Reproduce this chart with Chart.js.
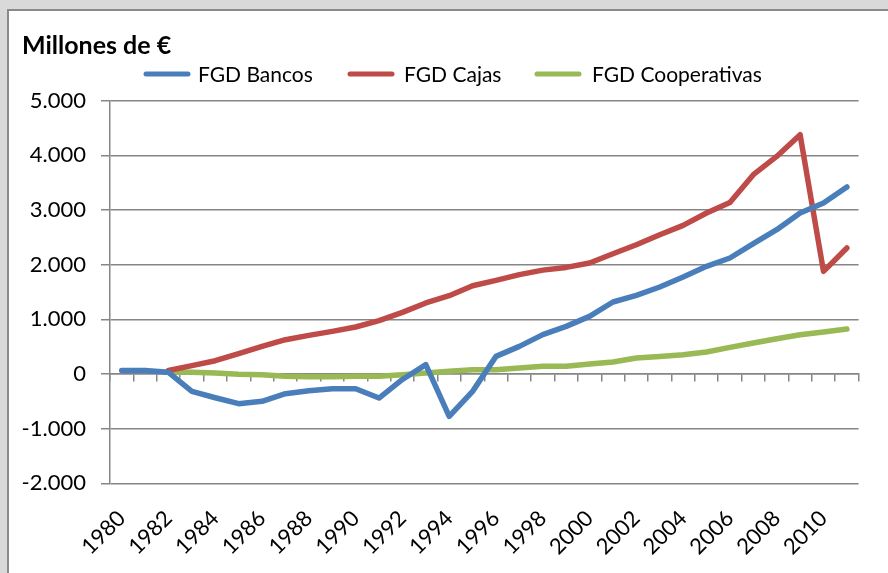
<!DOCTYPE html>
<html><head><meta charset="utf-8">
<script src="https://cdn.jsdelivr.net/npm/chart.js@4.4.1/dist/chart.umd.min.js"></script>
<style>
html,body{margin:0;padding:0;background:#d9d9d9;width:888px;height:573px;overflow:hidden;}
#frame{position:absolute;left:7px;top:9px;width:900px;height:600px;background:#fff;border-left:2px solid #8a8a8a;border-top:2px solid #8a8a8a;}
#wrap{position:absolute;left:0;top:0;width:888px;height:573px;}
</style></head><body>
<div id="frame"></div>
<div id="wrap"><canvas id="c" width="888" height="573"></canvas></div>
<script>
const years = ['1980','1981','1982','1983','1984','1985','1986','1987','1988','1989','1990','1991','1992','1993','1994','1995','1996','1997','1998','1999','2000','2001','2002','2003','2004','2005','2006','2007','2008','2009','2010','2011'];
const labelledYears = ['1980','1982','1984','1986','1988','1990','1992','1994','1996','1998','2000','2002','2004','2006','2008','2010'];
const bancos = [65, 65, 30, -318, -435, -543, -500, -360, -305, -270, -270, -440, -100, 170, -775, -318, 322, 505, 720, 871, 1054, 1317, 1438, 1591, 1774, 1969, 2122, 2384, 2640, 2945, 3128, 3421];
const cajas = [null, null, 65, 152, 243, 371, 505, 627, 706, 780, 860, 975, 1127, 1299, 1432, 1615, 1713, 1817, 1900, 1950, 2030, 2200, 2365, 2548, 2718, 2945, 3139, 3646, 3981, 4378, 1877, 2305];
const cooperativas = [null, null, 37, 30, 18, -7, -13, -43, -50, -50, -43, -43, -13, 18, 48, 79, 79, 110, 140, 140, 183, 219, 292, 322, 353, 402, 487, 567, 646, 719, 768, 823];
const yTicks = [-2000, -1000, 0, 1000, 2000, 3000, 4000, 5000];
const seriesNames = ['FGD Bancos', 'FGD Cajas', 'FGD Cooperativas'];
const seriesColors = ['#4a7ebb', '#be4b48', '#98b954'];
const titleText = 'Millones de €';

const GRID = '#868686';
const FONT = 'Lato, "Open Sans", sans-serif';

function fmt(v) {
  const s = Math.abs(v).toString().replace(/\B(?=(\d{3})+(?!\d))/g, '.');
  return (v < 0 ? '-' : '') + s;
}

const headerPlugin = {
  id: 'header',
  afterDraw(chart) {
    const ctx = chart.ctx;
    ctx.save();
    ctx.fillStyle = '#000';
    ctx.textBaseline = 'alphabetic';
    ctx.textAlign = 'left';
    ctx.font = 'bold 25px ' + FONT;
    ctx.fillText(titleText, 22, 54);
    const starts = [146, 350, 537];
    const textX = [198, 404, 592];
    ctx.font = '21px ' + FONT;
    chart.data.datasets.forEach((ds, i) => {
      ctx.strokeStyle = ds.borderColor;
      ctx.lineWidth = 5;
      ctx.lineCap = 'round';
      ctx.beginPath();
      ctx.moveTo(starts[i], 74);
      ctx.lineTo(starts[i] + 42, 74);
      ctx.stroke();
      ctx.fillText(ds.label, textX[i], 81.5);
    });
    ctx.restore();
  }
};

const mk = (i, data) => ({
  label: seriesNames[i], data, borderColor: seriesColors[i], backgroundColor: seriesColors[i],
  borderWidth: 5.5, pointRadius: 0, tension: 0, borderCapStyle: 'round', borderJoinStyle: 'round', spanGaps: false
});

new Chart(document.getElementById('c'), {
  type: 'line',
  data: { labels: years, datasets: [mk(0, bancos), mk(1, cajas), mk(2, cooperativas)] },
  options: {
    responsive: false, animation: false, devicePixelRatio: 1,
    layout: { padding: { left: 0, right: 28, top: 100.7, bottom: 0 } },
    plugins: { legend: { display: false }, title: { display: false }, tooltip: { enabled: false } },
    scales: {
      x: {
        type: 'category', offset: true, position: 'bottom',
        grid: { display: false, drawTicks: false },
        border: { display: false },
        ticks: {
          autoSkip: false, minRotation: 45, maxRotation: 45, padding: 22,
          color: '#000', font: { family: FONT, size: 22 },
          callback: (v, i) => labelledYears.includes(years[i]) ? years[i] : ''
        },
        afterFit: s => { s.height = 89.7; }
      },
      x2: {
        type: 'category', offset: true, position: { y: 0 },
        grid: { drawOnChartArea: false, drawTicks: true, tickLength: 7, offset: true, color: GRID, lineWidth: 1.5 },
        border: { display: true, color: GRID, width: 1.5 },
        ticks: { display: false }
      },
      y: {
        min: -2000, max: 5000,
        afterBuildTicks: s => { s.ticks = yTicks.map(v => ({ value: v })); },
        grid: { color: GRID, lineWidth: 1.5, tickLength: 9 },
        border: { display: true, color: GRID, width: 1.5 },
        ticks: { color: '#000', padding: 15, font: { family: FONT, size: 22 }, callback: v => fmt(v) },
        afterFit: s => { s.width = 110; }
      }
    }
  },
  plugins: [headerPlugin]
});
</script>
</body></html>
